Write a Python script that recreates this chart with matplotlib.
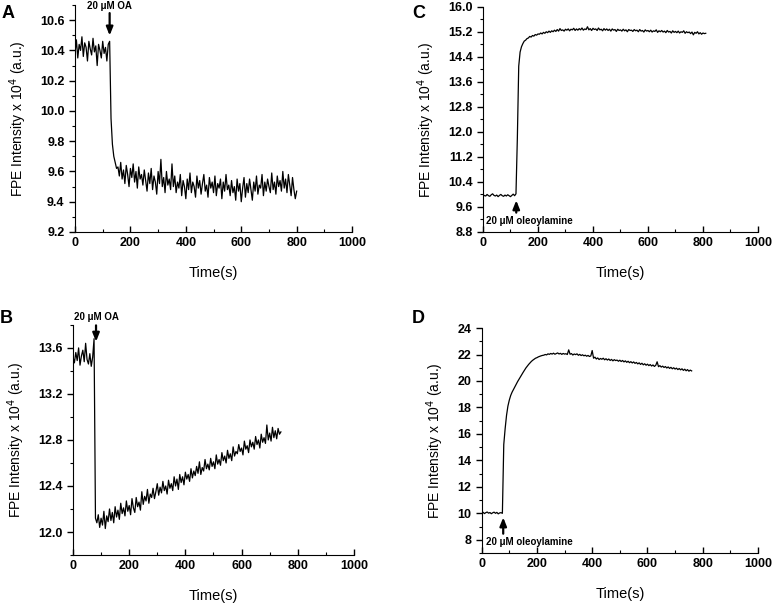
import numpy as np
import matplotlib.pyplot as plt
from matplotlib.ticker import MultipleLocator

plt.rcParams['font.family'] = ['Liberation Sans', 'DejaVu Sans']

# Panel A: 20 uM OA, time step 5 s
time_a = np.arange(0, 805, 5)
fpe_a = [10.38, 10.47, 10.35, 10.44, 10.40, 10.49, 10.36, 10.45, 10.42, 10.33,
         10.46, 10.41, 10.37, 10.48, 10.39, 10.43, 10.30, 10.44, 10.40, 10.35,
         10.46, 10.38, 10.42, 10.33, 10.44,
         10.46, 9.95, 9.78, 9.70, 9.66, 9.62,
         9.63, 9.57, 9.66, 9.55, 9.61, 9.52, 9.64, 9.58, 9.50, 9.62,
         9.56, 9.65, 9.53, 9.60, 9.49, 9.63, 9.55, 9.58, 9.51, 9.61,
         9.54, 9.47, 9.59, 9.52, 9.62, 9.48, 9.57, 9.53, 9.45, 9.60,
         9.52, 9.68, 9.50, 9.56, 9.46, 9.60, 9.51, 9.55, 9.48, 9.65,
         9.50, 9.57, 9.46, 9.53, 9.49, 9.58, 9.44, 9.54, 9.50, 9.42,
         9.55, 9.48, 9.59, 9.46, 9.53, 9.50, 9.43, 9.57, 9.49, 9.54,
         9.45, 9.52, 9.58, 9.47, 9.51, 9.43, 9.56, 9.49, 9.53, 9.46,
         9.57, 9.44, 9.52, 9.49, 9.55, 9.42, 9.53, 9.47, 9.58, 9.48,
         9.51, 9.44, 9.54, 9.46, 9.50, 9.41, 9.55, 9.47, 9.52, 9.40,
         9.49, 9.56, 9.43, 9.52, 9.46, 9.55, 9.48, 9.41, 9.53, 9.47,
         9.57, 9.45, 9.51, 9.49, 9.58, 9.44, 9.53, 9.47, 9.55, 9.50,
         9.46, 9.59, 9.48, 9.53, 9.45, 9.57, 9.50, 9.54, 9.47, 9.60,
         9.49, 9.55, 9.46, 9.58, 9.51, 9.44, 9.56, 9.48, 9.42, 9.47]

# Panel B: 20 uM OA
time_b = np.arange(0, 745, 5)
fpe_b = [13.52, 13.47, 13.56, 13.49, 13.60, 13.45, 13.53, 13.58, 13.48, 13.64,
         13.50, 13.46, 13.55, 13.44, 13.52,
         13.68, 12.12,
         12.08, 12.15, 12.04, 12.12, 12.06, 12.18, 12.03, 12.14, 12.09, 12.20,
         12.10, 12.17, 12.08, 12.22, 12.13, 12.19, 12.11, 12.25, 12.16, 12.21,
         12.14, 12.27, 12.18, 12.23, 12.15, 12.29, 12.21, 12.17, 12.30, 12.22,
         12.26, 12.19, 12.35, 12.24, 12.31, 12.27, 12.37, 12.25, 12.33, 12.30,
         12.38, 12.29, 12.35, 12.42, 12.32, 12.39, 12.34, 12.44, 12.36, 12.40,
         12.33, 12.45, 12.38, 12.42, 12.36, 12.48, 12.40, 12.46, 12.37, 12.50,
         12.43, 12.48, 12.41, 12.52, 12.46, 12.50, 12.44, 12.55, 12.47, 12.53,
         12.49, 12.57, 12.51, 12.61, 12.50, 12.56, 12.53, 12.63, 12.55, 12.59,
         12.54, 12.64, 12.57, 12.61, 12.55, 12.67, 12.59, 12.63, 12.58, 12.69,
         12.62, 12.66, 12.60, 12.71, 12.64, 12.68, 12.62, 12.74, 12.66, 12.70,
         12.68, 12.76, 12.70, 12.73, 12.67, 12.79, 12.72, 12.75, 12.69, 12.80,
         12.74, 12.78, 12.72, 12.83, 12.76, 12.80, 12.73, 12.85, 12.78, 12.82,
         12.77, 12.93, 12.80, 12.86, 12.79, 12.91, 12.82, 12.88, 12.81, 12.90,
         12.85, 12.87]

# Panel C: 20 uM oleoylamine
time_c = np.arange(0, 815, 5)
fpe_c = [9.93, 9.97, 9.95, 10.00, 9.96, 9.94, 9.99, 10.02, 9.97, 9.95,
         9.98, 9.93, 9.97, 10.00, 9.96, 9.94, 9.98, 9.95, 9.99, 9.96,
         9.93, 9.97, 10.01, 9.96, 10.02,
         11.80, 14.10, 14.55, 14.72, 14.82, 14.90,
         14.93, 14.98, 15.00, 15.05, 15.03, 15.08, 15.06, 15.11, 15.09, 15.13,
         15.12, 15.16, 15.13, 15.18, 15.15, 15.20, 15.17, 15.22, 15.18, 15.23,
         15.20, 15.25, 15.21, 15.27, 15.22, 15.30, 15.24, 15.26, 15.22, 15.28,
         15.25, 15.29, 15.23, 15.28, 15.26, 15.31, 15.24, 15.29, 15.25, 15.30,
         15.26, 15.32, 15.25, 15.29, 15.27, 15.36, 15.26, 15.30, 15.24, 15.31,
         15.27, 15.29, 15.24, 15.32, 15.26, 15.28, 15.23, 15.30, 15.25, 15.29,
         15.24, 15.28, 15.22, 15.29, 15.25, 15.27, 15.21, 15.28, 15.24, 15.26,
         15.22, 15.28, 15.23, 15.26, 15.20, 15.27, 15.24, 15.25, 15.21, 15.27,
         15.23, 15.25, 15.20, 15.27, 15.22, 15.24, 15.19, 15.26, 15.22, 15.24,
         15.20, 15.25, 15.19, 15.23, 15.21, 15.26, 15.18, 15.23, 15.20, 15.24,
         15.19, 15.22, 15.17, 15.24, 15.19, 15.21, 15.16, 15.23, 15.18, 15.21,
         15.17, 15.22, 15.16, 15.20, 15.18, 15.23, 15.15, 15.20, 15.17, 15.19,
         15.14, 15.19, 15.10, 15.18, 15.15, 15.20, 15.13, 15.17, 15.12, 15.16,
         15.14, 15.15]

# Panel D: 20 uM oleoylamine
time_d = np.arange(0, 765, 5)
fpe_d = [10.02, 10.08, 9.98, 10.05, 10.10, 10.01, 10.06, 9.97, 10.04, 10.09,
         10.00, 10.07, 9.96, 10.03, 10.05, 10.00,
         15.20, 16.40, 17.40, 18.10, 18.55, 18.90, 19.15, 19.35, 19.55, 19.75,
         19.95, 20.12, 20.30, 20.48, 20.65,
         20.82, 20.98, 21.12, 21.25, 21.37, 21.48, 21.57, 21.64, 21.72, 21.76,
         21.82, 21.86, 21.90, 21.93, 21.95, 22.00, 21.97, 22.05, 22.01, 22.08,
         22.03, 22.10, 22.02, 22.07, 22.12, 22.04, 22.09, 22.01, 22.08, 22.03,
         22.06, 22.00, 22.35, 22.02, 22.07, 21.96, 22.04, 21.99, 22.05, 21.94,
         22.01, 21.92, 21.98, 21.90, 21.95, 21.87, 21.93, 21.85, 21.89, 22.30,
         21.72, 21.80, 21.66, 21.74, 21.62, 21.70, 21.64, 21.72, 21.60, 21.68,
         21.58, 21.66, 21.55, 21.63, 21.52, 21.61, 21.54, 21.58, 21.49, 21.57,
         21.47, 21.55, 21.44, 21.52, 21.41, 21.49, 21.38, 21.46, 21.36, 21.44,
         21.33, 21.40, 21.29, 21.37, 21.25, 21.34, 21.22, 21.30, 21.19, 21.27,
         21.16, 21.24, 21.13, 21.21, 21.10, 21.18, 21.45, 21.08, 21.16, 21.05,
         21.12, 21.02, 21.09, 20.98, 21.06, 20.95, 21.03, 20.92, 21.00, 20.90,
         20.97, 20.86, 20.94, 20.84, 20.92, 20.80, 20.89, 20.77, 20.86, 20.74,
         20.82, 20.76]

fig = plt.figure(figsize=(7.74, 6.04), dpi=100)

panels = [
    # letter, rect, time, values, ylim, major, minor, arrow x, tip y, tail y, label, label x, label y
    ('A', [0.0969, 0.6159, 0.358, 0.3758], time_a, fpe_a, (9.2, 10.7), 0.2, 0.1,
     125, 10.48, 10.665, '20 μM OA', 123, 10.693),
    ('B', [0.0943, 0.0811, 0.363, 0.381], time_b, fpe_b, (11.8, 13.8), 0.4, 0.2,
     82, 13.63, 13.82, '20 μM OA', 85, 13.87),
    ('C', [0.624, 0.6159, 0.3553, 0.373], time_c, fpe_c, (8.8, 16.0), 0.8, 0.4,
     121, 9.90, 9.33, '20 μM oleoylamine', 169, 9.14),
    ('D', [0.6223, 0.0844, 0.357, 0.3725], time_d, fpe_d, (7, 24), 2, 1,
     78, 9.9, 8.25, '20 μM oleoylamine', 173, 7.87),
]

letter_pos = {'A': (0.002, 0.978), 'B': (0.0, 0.473), 'C': (0.532, 0.978), 'D': (0.532, 0.473)}

for (letter, rect, t, y, ylim, major, minor, ax_x, tip_y, tail_y,
     label, lab_x, lab_y) in panels:
    assert len(t) == len(y)
    ax = fig.add_axes(rect)
    ax.plot(t, y, color='black', lw=0.9)
    ax.set_xlim(0, 1000)
    ax.set_ylim(*ylim)
    ax.xaxis.set_major_locator(MultipleLocator(200))
    ax.xaxis.set_minor_locator(MultipleLocator(100))
    ax.yaxis.set_major_locator(MultipleLocator(major))
    ax.yaxis.set_minor_locator(MultipleLocator(minor))
    if major < 1:
        ax.yaxis.set_major_formatter(plt.FormatStrFormatter('%.1f'))
    else:
        ax.yaxis.set_major_formatter(plt.FormatStrFormatter('%d'))
    for s in ('top', 'right'):
        ax.spines[s].set_visible(False)
    ax.tick_params(axis='x', which='both', direction='in')
    ax.tick_params(axis='y', which='both', direction='out')
    ax.tick_params(which='major', length=4, width=1)
    ax.tick_params(which='minor', length=2.5, width=0.8)
    ax.tick_params(labelsize=9)
    for lab in ax.get_xticklabels() + ax.get_yticklabels():
        lab.set_fontweight('bold')
    ax.set_xlabel('Time(s)', fontsize=10.5, labelpad=12)
    ax.set_ylabel('FPE Intensity x 10$^4$ (a.u.)', fontsize=10, labelpad=8)

    ax.annotate('', xy=(ax_x, tip_y), xytext=(ax_x, tail_y),
                arrowprops=dict(arrowstyle='-|>,head_length=0.5,head_width=0.2',
                                lw=1.6, color='black'),
                annotation_clip=False)
    ax.text(lab_x, lab_y, label, ha='center', va='center', fontsize=7,
            fontweight='bold', clip_on=False)

    fig.text(letter_pos[letter][0], letter_pos[letter][1], letter,
             fontsize=13, fontweight='bold', ha='left', va='center')

fig.savefig('out.png', dpi=100)
